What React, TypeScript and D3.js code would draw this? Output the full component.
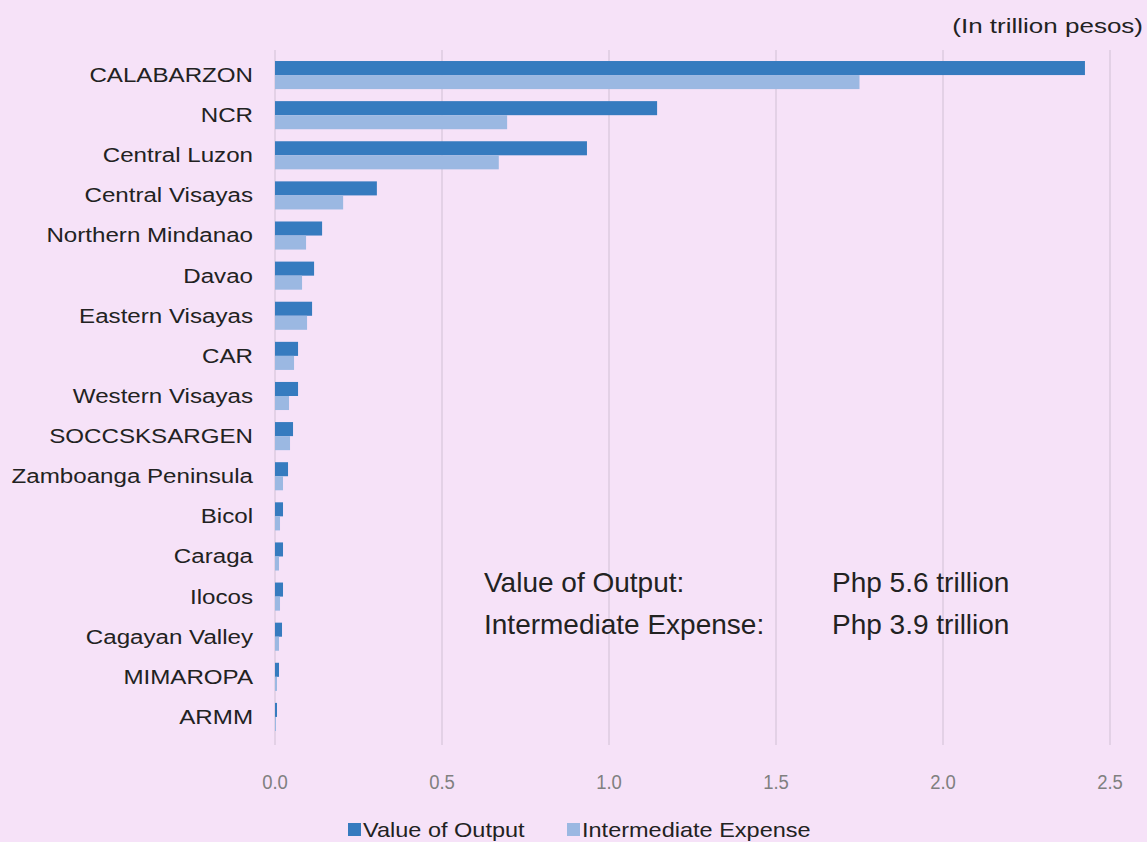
import { useEffect } from 'react';
import * as d3 from 'd3';

const regions = [
    'CALABARZON', 'NCR', 'Central Luzon', 'Central Visayas', 'Northern Mindanao', 'Davao',
    'Eastern Visayas', 'CAR', 'Western Visayas', 'SOCCSKSARGEN', 'Zamboanga Peninsula',
    'Bicol', 'Caraga', 'Ilocos', 'Cagayan Valley', 'MIMAROPA', 'ARMM',
];
const valueOfOutput = [2.425, 1.144, 0.934, 0.305, 0.141, 0.117, 0.111, 0.069, 0.069, 0.054, 0.039, 0.024, 0.024, 0.024, 0.021, 0.012, 0.006];
const intermediateExpense = [1.75, 0.695, 0.67, 0.204, 0.093, 0.081, 0.096, 0.057, 0.042, 0.045, 0.024, 0.015, 0.012, 0.015, 0.012, 0.006, 0.003];
const xTicks = [0, 0.5, 1.0, 1.5, 2.0, 2.5];
const seriesNames = ['Value of Output', 'Intermediate Expense'];
const totalLabels = ['Value of Output:', 'Intermediate Expense:'];
const totalValues = ['Php 5.6 trillion', 'Php 3.9 trillion'];

const W = 1147;
const H = 842;
const BG = '#f6e2f8';
const DARK = '#367bbf';
const LIGHT = '#9bb8e2';
const GRID = '#dccbe0';

export default function App() {
    useEffect(() => {
        document.body.style.margin = '0';
    }, []);

    const x = d3.scaleLinear().domain([0, 2.5]).range([275, 1110]);
    const y = d3.scaleBand<string>().domain(regions).range([55, 737]).paddingInner(0.3).paddingOuter(0.15);
    const sub = d3.scaleBand<number>().domain([0, 1]).range([0, y.bandwidth()]);
    const series = [valueOfOutput, intermediateExpense];
    const colors = [DARK, LIGHT];

    // legend item positions (square left edges)
    const legendX = [348, 567];

    return (
        <svg width={W} height={H} style={{ display: 'block', fontFamily: 'Arial, "Liberation Sans", sans-serif' }}>
            <rect width={W} height={H} fill={BG} />
            <text transform="translate(1143,33) scale(1.3,1)" textAnchor="end" fontSize={20} fill="#222">(In trillion pesos)</text>

            {xTicks.map((t) => (
                <line key={t} x1={x(t)} x2={x(t)} y1={50} y2={745} stroke={GRID} strokeWidth={1.5} />
            ))}

            {series.map((vals, si) =>
                vals.map((v, i) => (
                    <rect
                        key={`${si}-${i}`}
                        x={x(0)}
                        y={(y(regions[i]) ?? 0) + (sub(si) ?? 0)}
                        width={Math.max(0.5, x(v) - x(0))}
                        height={sub.bandwidth()}
                        fill={colors[si]}
                    />
                ))
            )}

            {regions.map((r) => (
                <text
                    key={r}
                    transform={`translate(253,${(y(r) ?? 0) + y.bandwidth() / 2}) scale(1.15,1)`}
                    textAnchor="end"
                    dominantBaseline="central"
                    fontSize={21}
                    fill="#222"
                >
                    {r}
                </text>
            ))}

            {xTicks.map((t) => (
                <text
                    key={`t${t}`}
                    transform={`translate(${x(t)},789) scale(0.88,1)`}
                    textAnchor="middle"
                    fontSize={21}
                    fill="#808080"
                >
                    {t.toFixed(1)}
                </text>
            ))}

            {totalLabels.map((l, i) => (
                <g key={l}>
                    <text x={484} y={592 + i * 42} fontSize={28} fill="#222">{l}</text>
                    <text x={832} y={592 + i * 42} fontSize={28} fill="#222">{totalValues[i]}</text>
                </g>
            ))}

            {seriesNames.map((n, i) => (
                <g key={n}>
                    <rect x={legendX[i]} y={823} width={13} height={13} fill={colors[i]} />
                    <text transform={`translate(${legendX[i] + 15},837) scale(1.12,1)`} fontSize={21} fill="#222">{n}</text>
                </g>
            ))}
        </svg>
    );
}
